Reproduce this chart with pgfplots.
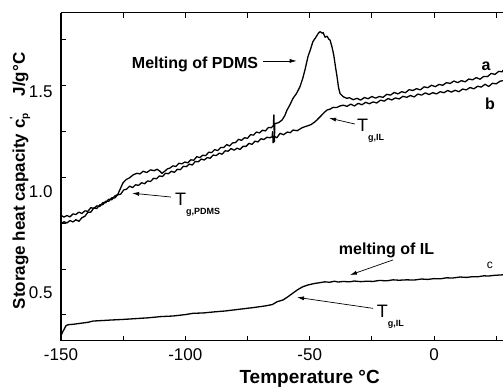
\documentclass[border=0pt]{standalone}
\usepackage{fontspec}
\setmainfont{Liberation Sans}
\usepackage{pgfplots}
\pgfplotsset{compat=1.18}
\usetikzlibrary{arrows.meta}
\newcommand{\Tg}[1]{T\raisebox{-9pt}{\fontsize{9}{9}\selectfont\bfseries #1}}
\begin{document}
\begin{tikzpicture}
\begin{axis}[
  at={(0,0)}, anchor=south west,
  scale only axis, width=442pt, height=328pt,
  xmin=-150, xmax=27.74, ymin=0.2587, ymax=1.8905,
  axis x line=box, axis y line=left,
  x axis line style={-, line width=1pt},
  y axis line style={-, line width=1pt},
  tick align=inside,
  xtick={-150,-125,-100,-75,-50,-25,0,25},
  xticklabels={-150,,-100,,-50,,0,},
  ytick={0.390,0.617,0.845,1.074,1.302,1.531,1.760},
  yticklabels={},
  major tick length=5pt,
  tick style={line width=0.9pt, black},
  xticklabel style={font=\fontsize{17}{17}\selectfont, yshift=-4pt},
  /pgf/number format/assume math mode=true,
  clip mode=individual,
]
% curve a
\addplot[line width=1.3pt, black, line join=round] coordinates {
(-150.0,0.884) (-148.8,0.875) (-147.6,0.883) (-146.4,0.876) (-145.2,0.891)
(-144.0,0.888) (-142.8,0.900) (-141.6,0.893) (-140.4,0.906) (-139.2,0.904)
(-138.0,0.922) (-136.8,0.918) (-135.6,0.931) (-134.4,0.928) (-133.2,0.947)
(-132.0,0.947) (-130.8,0.964) (-129.6,0.961) (-128.4,0.980) (-127.2,0.987)
(-126.0,1.020) (-125.1,1.045) (-123.8,1.062) (-122.5,1.070) (-121.0,1.085)
(-119.5,1.093) (-118.2,1.090) (-117.0,1.103) (-115.5,1.097) (-114.0,1.110)
(-112.5,1.106) (-111.4,1.113) (-110.4,1.105) (-109.4,1.093) (-108.3,1.103)
(-107.2,1.115) (-106.2,1.119)
(-105.0,1.130) (-103.8,1.127) (-102.6,1.143) (-101.4,1.140) (-100.2,1.149)
(-99.0,1.145) (-97.8,1.160) (-96.6,1.158) (-95.4,1.176) (-94.2,1.171)
(-93.0,1.183) (-91.8,1.181) (-90.6,1.198) (-89.4,1.196) (-88.2,1.211)
(-87.0,1.206) (-85.8,1.221) (-84.6,1.221) (-83.4,1.236) (-82.2,1.229)
(-81.0,1.244) (-79.8,1.246) (-78.6,1.262) (-77.4,1.257) (-76.2,1.270)
(-75.0,1.267) (-73.8,1.285) (-72.6,1.283) (-71.4,1.298) (-70.2,1.294)
(-69.0,1.307) (-67.8,1.304) (-66.6,1.321) (-65.4,1.320)
(-64.6,1.330) (-64.4,1.383)
(-64.2,1.250) (-64.0,1.340) (-62.5,1.345) (-61.1,1.358) (-60.0,1.380)
(-59.1,1.408) (-58.0,1.432) (-56.7,1.466) (-55.3,1.490) (-53.9,1.524)
(-52.8,1.565) (-51.9,1.607) (-50.7,1.673) (-49.8,1.705) (-48.7,1.748)
(-47.5,1.770) (-46.5,1.790) (-45.8,1.798) (-45.0,1.790) (-44.6,1.793)
(-43.8,1.770) (-43.0,1.775) (-42.3,1.760) (-41.8,1.756) (-41.0,1.720)
(-40.3,1.680) (-39.6,1.620) (-39.0,1.574) (-38.4,1.520) (-37.8,1.490)
(-36.5,1.474) (-35.1,1.466)
(-34.0,1.469) (-32.5,1.459) (-31.0,1.466) (-29.5,1.457) (-28.0,1.470)
(-26.5,1.464) (-25.0,1.475) (-23.5,1.467) (-22.0,1.475) (-20.5,1.471)
(-19.0,1.486) (-17.5,1.482) (-16.0,1.495) (-14.5,1.488) (-13.0,1.499)
(-11.5,1.494) (-10.0,1.509) (-8.5,1.505) (-7.0,1.514) (-5.5,1.508)
(-4.0,1.523) (-2.5,1.519) (-1.0,1.531) (0.5,1.524) (2.0,1.535)
(3.5,1.531) (5.0,1.544) (6.5,1.540) (8.0,1.552) (9.5,1.544)
(11.0,1.554) (12.5,1.548) (14.0,1.562) (15.5,1.558) (17.0,1.569)
(18.5,1.561) (20.0,1.575) (21.5,1.574) (23.0,1.590) (24.5,1.585)
(26.0,1.600) (27.5,1.598) (27.74,1.607)
};
% curve b
\addplot[line width=1.3pt, black, line join=round] coordinates {
(-150.0,0.843) (-148.8,0.852) (-147.6,0.846) (-146.4,0.858) (-145.2,0.851)
(-144.0,0.862) (-142.8,0.854) (-141.6,0.872) (-140.4,0.879) (-139.2,0.899)
(-138.0,0.900) (-136.8,0.921) (-135.6,0.918) (-134.4,0.936) (-133.2,0.937)
(-132.0,0.954) (-130.8,0.954) (-129.6,0.971) (-128.4,0.970) (-127.2,0.986)
(-126.0,0.989) (-124.8,1.010) (-123.6,1.014) (-122.4,1.029) (-121.2,1.022)
(-120.0,1.036) (-118.8,1.033) (-117.6,1.046) (-116.4,1.041) (-115.2,1.055)
(-114.0,1.052) (-112.8,1.068) (-111.6,1.066) (-110.4,1.080) (-109.2,1.077)
(-108.0,1.093) (-106.8,1.091) (-105.6,1.103) (-104.4,1.098) (-103.2,1.113)
(-102.0,1.111) (-100.8,1.128) (-99.6,1.126) (-98.4,1.139) (-97.2,1.134)
(-96.0,1.152) (-94.8,1.150) (-93.6,1.164) (-92.4,1.159) (-91.2,1.171)
(-90.0,1.168) (-88.8,1.184) (-87.6,1.181) (-86.4,1.193) (-85.2,1.188)
(-84.0,1.205) (-82.8,1.203) (-81.6,1.216) (-80.4,1.208) (-79.2,1.218)
(-78.0,1.212) (-76.8,1.227) (-75.6,1.227) (-74.4,1.242) (-73.2,1.237)
(-72.0,1.253) (-70.8,1.249) (-69.6,1.265) (-68.4,1.261) (-67.2,1.272)
(-66.0,1.270)
(-65.1,1.275) (-64.9,1.300) (-64.7,1.245) (-64.5,1.278) (-63.2,1.270)
(-61.9,1.292) (-60.5,1.285) (-59.0,1.298) (-57.8,1.295) (-56.7,1.308)
(-55.0,1.305) (-53.0,1.320) (-51.1,1.328) (-49.5,1.335) (-48.0,1.348)
(-47.1,1.358) (-45.5,1.378) (-44.2,1.395) (-43.0,1.408) (-41.8,1.412)
(-40.6,1.421) (-39.2,1.420) (-37.8,1.428)
(-36.5,1.432) (-35.0,1.426) (-33.5,1.437) (-32.0,1.428) (-30.5,1.441)
(-29.0,1.434) (-27.5,1.446) (-26.0,1.439) (-24.5,1.448) (-23.0,1.443)
(-21.5,1.457) (-20.0,1.452) (-18.5,1.465) (-17.0,1.458) (-15.5,1.468)
(-14.0,1.463) (-12.5,1.476) (-11.0,1.471) (-9.5,1.480) (-8.0,1.473)
(-6.5,1.487) (-5.0,1.482) (-3.5,1.493) (-2.0,1.485) (-0.5,1.494)
(1.0,1.488) (2.5,1.499) (4.0,1.494) (5.5,1.505) (7.0,1.497)
(8.5,1.506) (10.0,1.499) (11.5,1.512) (13.0,1.508) (14.5,1.520)
(16.0,1.513) (17.5,1.526) (19.0,1.522) (20.5,1.536) (22.0,1.525)
(23.5,1.541) (25.0,1.538) (26.5,1.551) (27.74,1.554)
};
% curve c
\addplot[line width=1.3pt, black, line join=round] coordinates {
(-149.8,0.290) (-149.3,0.305) (-148.6,0.320) (-148.0,0.335) (-147.0,0.340)
(-145.0,0.342) (-142.0,0.347) (-139.0,0.352) (-137.1,0.358) (-134.0,0.360)
(-130.0,0.363) (-125.0,0.366) (-120.0,0.370) (-115.0,0.374) (-110.0,0.380)
(-105.0,0.383) (-100.0,0.390) (-96.9,0.3965) (-93.0,0.398) (-88.0,0.404)
(-84.0,0.408) (-80.0,0.414) (-76.0,0.420) (-72.0,0.426) (-68.0,0.433)
(-65.0,0.440) (-63.1,0.454) (-60.7,0.463) (-58.6,0.480) (-56.7,0.4975)
(-54.7,0.515) (-52.7,0.529) (-50.5,0.538) (-48.0,0.545) (-45.8,0.549)
(-44.0,0.553) (-42.0,0.551) (-40.0,0.556) (-38.5,0.552) (-36.6,0.555)
(-34.0,0.553) (-32.0,0.557) (-29.5,0.554) (-27.0,0.556) (-24.5,0.555)
(-22.0,0.560) (-19.0,0.558) (-16.5,0.563) (-14.0,0.561) (-11.0,0.563)
(-8.0,0.562) (-5.0,0.567) (-2.5,0.565) (0.0,0.569) (2.5,0.568)
(5.0,0.573) (7.5,0.572) (10.5,0.577) (13.0,0.575) (15.0,0.578)
(17.5,0.578) (20.0,0.583) (22.0,0.582) (24.0,0.585) (27.74,0.588)
};
% y tick labels
\node[anchor=east, font=\fontsize{17}{17}\selectfont] at ([xshift=-5pt]axis cs:-150,1.5) {1.5};
\node[anchor=east, font=\fontsize{17}{17}\selectfont] at ([xshift=-5pt]axis cs:-150,1.0) {1.0};
\node[anchor=east, font=\fontsize{17}{17}\selectfont] at ([xshift=-5pt]axis cs:-150,0.5) {0.5};
% axis labels
\node[anchor=base, font=\bfseries\fontsize{19}{19}\selectfont] at ([yshift=-43pt]axis cs:-50,0.2587) {Temperature °C};
\node[rotate=90, anchor=center, font=\bfseries\fontsize{17}{17}\selectfont] at ([xshift=-41pt]rel axis cs:0,0.488)
  {Storage heat capacity c\rlap{\raisebox{0.9ex}{\fontsize{10}{10}\selectfont\textquotesingle}}\raisebox{-0.35ex}{\fontsize{10}{10}\selectfont p}\quad J/g°C};
% annotations
\node[anchor=base, font=\bfseries\fontsize{16}{16}\selectfont] at (axis cs:-96.1,1.615) {Melting of PDMS};
\draw[line width=0.7pt, -{Latex[length=7pt,width=4pt]}] (axis cs:-68.9,1.652) -- (axis cs:-55.2,1.652);
\node[anchor=base west, font=\fontsize{18}{18}\selectfont, inner sep=0pt] at (axis cs:-31.0,1.2985) {\Tg{g,IL}};
\draw[line width=0.7pt, -{Latex[length=7pt,width=4pt]}] (axis cs:-31.8,1.338) -- (axis cs:-42.2,1.368);
\node[anchor=base west, font=\fontsize{18}{18}\selectfont, inner sep=0pt] at (axis cs:-104.2,0.935) {\Tg{g,PDMS}};
\draw[line width=0.7pt, -{Latex[length=7pt,width=4pt]}] (axis cs:-105.8,0.975) -- (axis cs:-121.4,0.994);
\node[anchor=base, font=\bfseries\fontsize{16}{16}\selectfont] at (axis cs:-19.1,0.687) {melting of IL};
\draw[line width=0.7pt, -{Latex[length=7pt,width=4pt]}] (axis cs:-16.5,0.662) -- (axis cs:-33.8,0.587);
\node[anchor=base west, font=\fontsize{18}{18}\selectfont, inner sep=0pt] at (axis cs:-23.1,0.378) {\Tg{g,IL}};
\draw[line width=0.7pt, -{Latex[length=7pt,width=4pt]}] (axis cs:-24.5,0.421) -- (axis cs:-55.1,0.476);
\node[font=\bfseries\fontsize{16}{16}\selectfont] at (axis cs:20.9,1.623) {a};
\node[font=\bfseries\fontsize{16}{16}\selectfont] at (axis cs:22.5,1.441) {b};
\node[font=\fontsize{12}{12}\selectfont] at (axis cs:22.5,0.637) {c};
\end{axis}
\pgfresetboundingbox
\path (-61pt,-46pt) rectangle (442pt,341pt);
\end{tikzpicture}
\end{document}
